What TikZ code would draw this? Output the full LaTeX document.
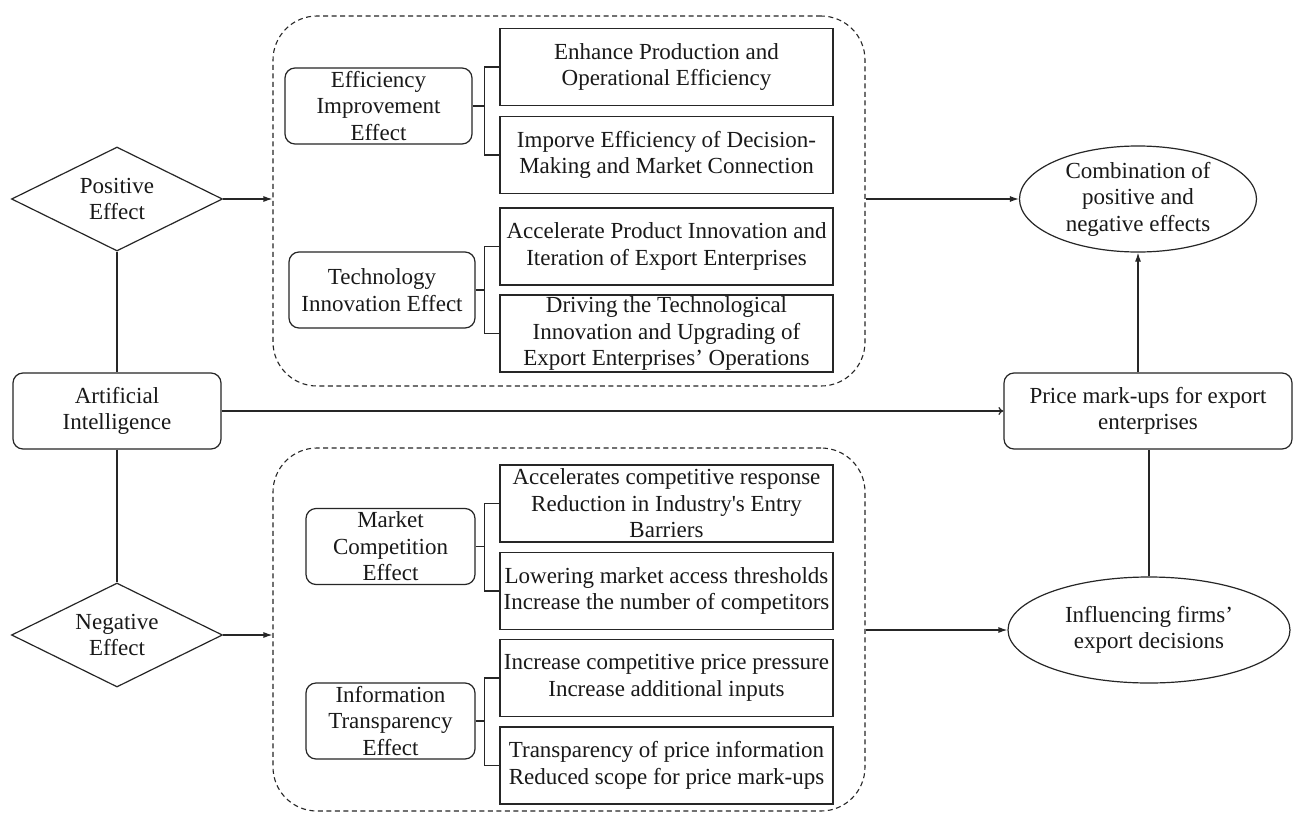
\documentclass[tikz,border=0pt]{standalone}
\usepackage{fontspec}
\setmainfont{Liberation Serif}
\usetikzlibrary{shapes.geometric,arrows.meta}
\begin{document}
\begin{tikzpicture}[x=1pt,y=-1pt,
  every node/.style={font=\fontsize{23}{26.5}\selectfont, align=center, inner sep=0pt, text=black!90},
  ln/.style={draw=black!85, line width=1.2pt},
  dia/.style={ln, shape=diamond, aspect=2.03, minimum width=211pt, minimum height=104pt},
  rbox/.style={ln, rectangle, rounded corners=10pt, minimum width=#1, minimum height=76pt},
  sbox/.style={ln, rectangle, minimum width=333pt, minimum height=77pt},
  ell/.style={ln, ellipse, minimum width=#1, minimum height=106pt},
  dbox/.style={draw=black!85, line width=1.1pt, dash pattern=on 5pt off 3.5pt, rounded corners=44pt, rectangle},
  arr/.style={ln, -{Latex[length=9pt,width=6pt]}}
]
\fill[white] (0,0) rectangle (1293,814);
\useasboundingbox (0,0) rectangle (1293,814);

% dashed groups
\node[dbox, minimum width=592pt, minimum height=370pt] (tbox) at (569,201) {};
\node[dbox, minimum width=592pt, minimum height=363pt] (bbox) at (569,629.5) {};

% left column
\node[dia] (pos) at (117,199) {Positive\\Effect};
\node[dia] (neg) at (117,635) {Negative\\Effect};
\node[rbox=208pt] (ai) at (117,411) {Artificial\\Intelligence};

% right column
\node[rbox=288pt] (price) at (1148,411) {Price mark-ups for export\\enterprises};
\node[ell=237pt] (comb) at (1138,199) {Combination of\\positive and\\negative effects};
\node[ell=282pt] (infl) at (1149,630) {Influencing firms’\\export decisions};

% effect boxes
\node[rbox=187pt] (eff) at (378.5,106) {Efficiency\\Improvement\\Effect};
\node[rbox=186pt] (tech) at (382,290) {Technology\\Innovation Effect};
\node[rbox=169pt] (mkt) at (390.5,546.5) {Market\\Competition\\Effect};
\node[rbox=169pt] (info) at (390.5,721) {Information\\Transparency\\Effect};

% detail boxes
\node[sbox] (b1) at (666.5,67) {Enhance Production and\\Operational Efficiency};
\node[sbox] (b2) at (666.5,155) {Imporve Efficiency of Decision-\\Making and Market Connection};
\node[sbox] (b3) at (666.5,246.5) {Accelerate Product Innovation and\\Iteration of Export Enterprises};
\node[sbox] (b4) at (666.5,333.5) {Driving the Technological\\Innovation and Upgrading of\\Export Enterprises’ Operations};
\node[sbox] (b5) at (666.5,503.5) {Accelerates competitive response\\Reduction in Industry\textquotesingle s Entry\\Barriers};
\node[sbox] (b6) at (666.5,591) {Lowering market access thresholds\\Increase the number of competitors};
\node[sbox] (b7) at (666.5,678) {Increase competitive price pressure\\Increase additional inputs};
\node[sbox] (b8) at (666.5,765.5) {Transparency of price information\\Reduced scope for price mark-ups};

% brackets
\draw[ln] (eff.east) -- ([xshift=-15pt]b1.west |- eff.east);
\draw[ln] (b1.west) -- ++(-15,0) |- (b2.west);
\draw[ln] (tech.east) -- ([xshift=-15pt]b3.west |- tech.east);
\draw[ln] (b3.west) -- ++(-15,0) |- (b4.west);
\draw[ln] (mkt.east) -- ([xshift=-15pt]b5.west |- mkt.east);
\draw[ln] (b5.west) -- ++(-15,0) |- (b6.west);
\draw[ln] (info.east) -- ([xshift=-15pt]b7.west |- info.east);
\draw[ln] (b7.west) -- ++(-15,0) |- (b8.west);

% connectors
\draw[ln] (pos.south) -- (ai.north);
\draw[ln] (ai.south) -- (neg.north);
\draw[arr] (pos.east) -- (pos.east -| tbox.west);
\draw[arr] (neg.east) -- (neg.east -| bbox.west);
\draw[arr] (tbox.east |- comb.west) -- (comb.west);
\draw[arr] (bbox.east |- infl.west) -- (infl.west);
\draw[ln, -{To[length=5pt,width=8pt]}] (ai.east) -- (price.west);
\draw[arr] (price.north -| comb.south) -- (comb.south);
\draw[ln] (infl.north) -- (infl.north |- price.south);
\end{tikzpicture}
\end{document}
